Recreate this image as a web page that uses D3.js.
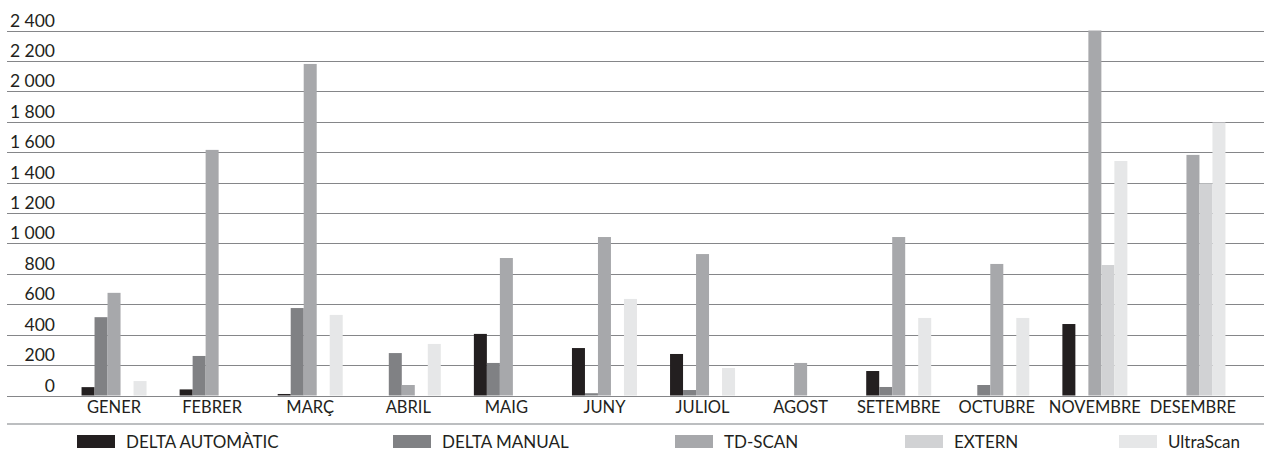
<!DOCTYPE html>
<html>
<head>
<meta charset="utf-8">
<script src="https://cdn.jsdelivr.net/npm/d3@7"></script>
<style>
  body { margin: 0; background: #fff; }
  svg text { font-family: Lato, "Open Sans", sans-serif; fill: #231f20; }
</style>
</head>
<body>
<svg></svg>
<script>
var months = ["GENER","FEBRER","MARÇ","ABRIL","MAIG","JUNY","JULIOL","AGOST","SETEMBRE","OCTUBRE","NOVEMBRE","DESEMBRE"]
var seriesNames = ["DELTA AUTOMÀTIC","DELTA MANUAL","TD-SCAN","EXTERN","UltraScan"]
var deltaAuto   = [55, 40, 10, 0, 405, 312, 273, 0, 161, 0, 470, 0]
var deltaManual = [515, 260, 575, 279, 214, 15, 36, 0, 56, 69, 0, 0]
var tdScan      = [675, 1615, 2180, 69, 904, 1042, 930, 214, 1042, 865, 2400, 1582]
var extern      = [0, 0, 0, 0, 0, 0, 0, 0, 0, 0, 858, 1395]
var ultraScan   = [95, 0, 530, 339, 0, 635, 181, 0, 510, 510, 1542, 1795]
var yTicks = [0,200,400,600,800,1000,1200,1400,1600,1800,2000,2200,2400]

var allSeries = [deltaAuto, deltaManual, tdScan, extern, ultraScan]
var colors = ["#231f20","#808184","#a7a8ab","#d1d2d4","#e6e7e8"]

var width = 1264
var height = 452

var svg = d3.select("svg")
    .attr("width", width)
    .attr("height", height)

var xScale = d3.scaleBand()
    .domain(months)
    .range([65, 1242])

var groupW = 65
var xSub = d3.scaleBand()
    .domain(seriesNames)
    .range([0, groupW])

var yScale = d3.scaleLinear()
    .domain([0, 2400])
    .range([395.5, 30.5])

// gridlines
svg.append("g")
    .selectAll("line")
    .data(yTicks)
    .enter()
    .append("line")
        .attr("x1", 7)
        .attr("x2", width)
        .attr("y1", d => Math.round(yScale(d)) + 0.5)
        .attr("y2", d => Math.round(yScale(d)) + 0.5)
        .attr("stroke", "#858689")
        .attr("stroke-width", 1.2)

// tick labels
svg.append("g")
    .selectAll("text")
    .data(yTicks)
    .enter()
    .append("text")
        .attr("x", 55)
        .attr("y", d => yScale(d) - 4)
        .attr("text-anchor", "end")
        .style("font-size", "17.5px")
        .text(d => d3.format(",")(d).replace(",", " "))

// bars
var rows = []
months.forEach(function(m, i){
    allSeries.forEach(function(s, j){
        rows.push({month: m, name: seriesNames[j], value: s[i], idx: j})
    })
})

svg.append("g")
    .selectAll("rect")
    .data(rows.filter(d => d.value > 0))
    .enter()
    .append("rect")
        .attr("x", d => xScale(d.month) + (xScale.bandwidth() - groupW) / 2 + xSub(d.name))
        .attr("width", xSub.bandwidth())
        .attr("y", d => yScale(d.value))
        .attr("height", d => yScale(0) - yScale(d.value))
        .attr("fill", d => colors[d.idx])

// month labels
svg.append("g")
    .selectAll("text")
    .data(months)
    .enter()
    .append("text")
        .attr("x", d => xScale(d) + xScale.bandwidth() / 2)
        .attr("y", 413)
        .attr("text-anchor", "middle")
        .style("font-size", "16.5px")
        .text(d => d)

// separator
svg.append("line")
    .attr("x1", 7)
    .attr("x2", width)
    .attr("y1", 424)
    .attr("y2", 424)
    .attr("stroke", "#bcbec0")
    .attr("stroke-width", 2)

// legend
var legendX = [77, 393, 675, 905, 1119]
var legend = svg.append("g")
    .selectAll("g")
    .data(seriesNames)
    .enter()
    .append("g")
        .attr("transform", (d, i) => "translate(" + legendX[i] + ",0)")

legend.append("rect")
    .attr("y", 435)
    .attr("width", 38)
    .attr("height", 13)
    .attr("fill", (d, i) => colors[i])

legend.append("text")
    .attr("x", 49)
    .attr("y", 448)
    .style("font-size", "17px")
    .text(d => d)
</script>
</body>
</html>
